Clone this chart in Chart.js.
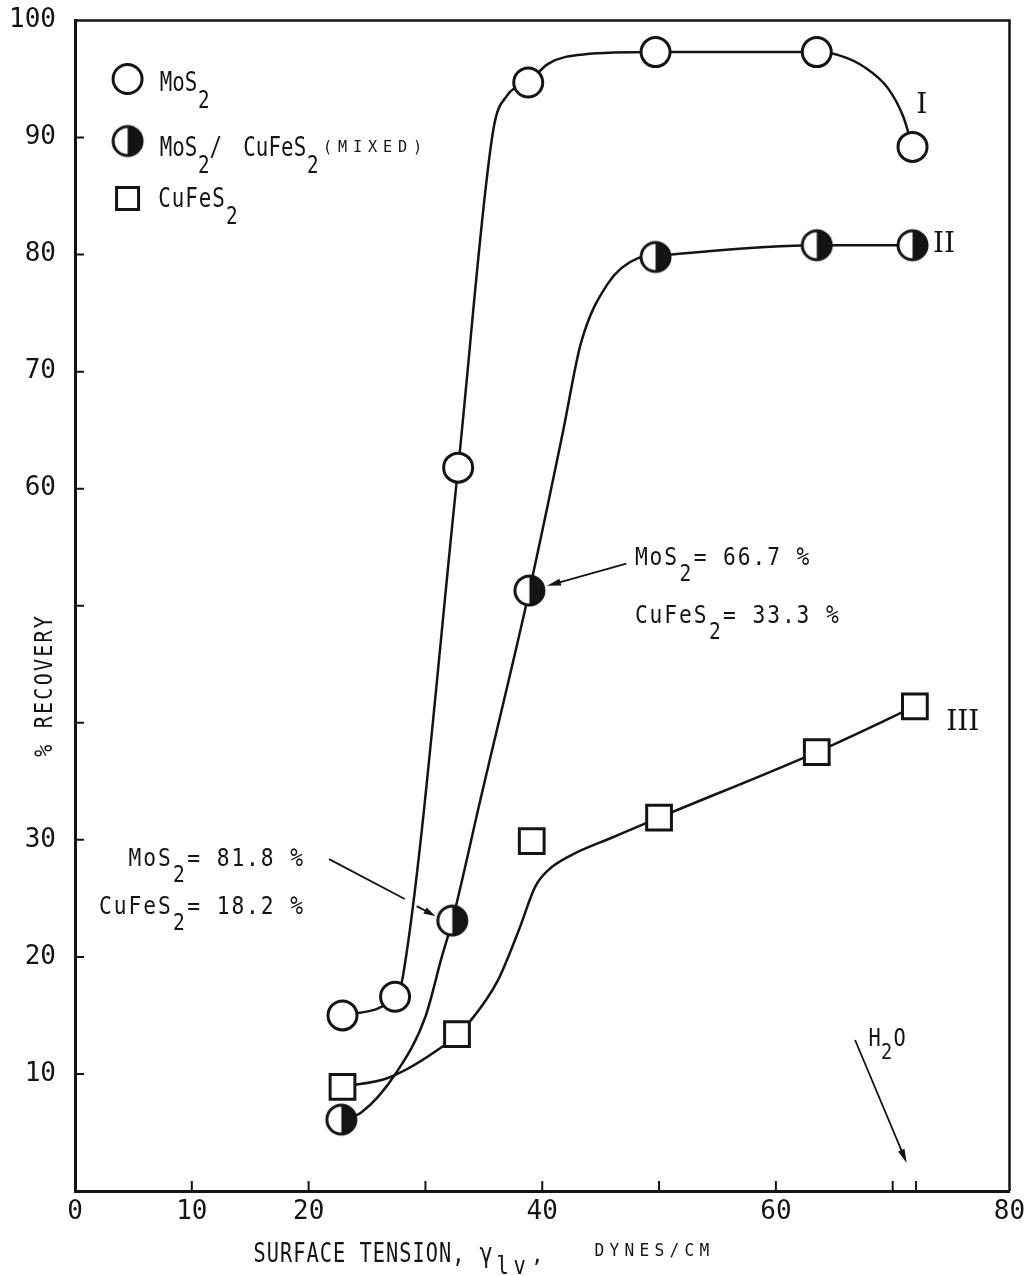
<!DOCTYPE html>
<html>
<head>
<meta charset="utf-8">
<title>Recovery vs surface tension</title>
<script src="https://cdn.jsdelivr.net/npm/chart.js@4.4.1/dist/chart.umd.min.js"></script>
<style>
  html, body { margin: 0; padding: 0; background: #fff; }
  #wrap { width: 1030px; height: 1276px; position: relative; }
</style>
</head>
<body>
<div id="wrap"><canvas id="chart" width="1030" height="1276"></canvas></div>
<script>
// ---- measured points: surface tension (dynes/cm) vs % recovery ----
const tensionMoS2    = [22.9, 27.4, 32.8, 38.8, 49.7, 63.5, 71.7];
const recoveryMoS2   = [15.0, 16.6, 61.8, 94.7, 97.3, 97.3, 89.2];
const tensionMixed   = [22.8, 32.3, 38.9, 49.7, 63.5, 71.7];
const recoveryMixed  = [6.1, 23.1, 51.3, 79.8, 80.8, 80.8];
const tensionCuFeS2  = [22.9, 32.7, 39.1, 50.0, 63.5, 71.9];
const recoveryCuFeS2 = [8.9, 13.4, 29.9, 31.9, 37.5, 41.4];

// ---- hand-faired trend curves I, II, III ----
const curveIx   = [22.9, 27.4, 28.1, 32.8, 35.8, 37.0, 38.8, 40.5, 43.5, 49.7, 63.5, 65.5, 67.6, 69.6, 70.9, 71.7];
const curveIy   = [15.0, 16.6, 18.5, 61.8, 90.6, 93.6, 94.7, 96.3, 97.1, 97.3, 97.3, 97.0, 96.0, 94.2, 91.8, 89.2];
const curveIIx  = [22.8, 24.5, 27.5, 30.0, 31.4, 32.3, 34.7, 38.9, 41.8, 43.3, 45.6, 48.2, 49.7, 63.5, 71.7];
const curveIIy  = [6.1, 6.7, 10.1, 14.9, 20.0, 23.1, 33.4, 51.3, 65.0, 72.4, 77.5, 79.7, 79.9, 80.8, 80.8];
const curveIIIx = [22.9, 26.9, 31.4, 32.7, 33.9, 36.2, 38.0, 39.4, 40.5, 42.5, 46.0, 50.0, 63.5, 71.9];
const curveIIIy = [8.9, 9.7, 12.3, 13.4, 14.6, 18.0, 22.3, 26.0, 27.4, 28.7, 30.2, 31.9, 37.5, 41.4];

// ---- axes ----
const xTickLabels = [0, 10, 20, 40, 60, 80];
const yTickLabels = [10, 20, 30, 60, 70, 80, 90, 100];
const xTickMarks  = [10, 20, 30, 40, 50, 60, 70, 72];
const yTickMarks  = [10, 20, 30, 40, 50, 60, 70, 80, 90];

const INK = '#141414';
const MONO = '"DejaVu Sans Mono", "Liberation Mono", monospace';
const SERIF = '"DejaVu Serif", "Liberation Serif", serif';

const pts = (xs, ys) => xs.map((v, i) => ({ x: v, y: ys[i] }));

// half-filled disc used for the mixed-mineral series
function makeHalfDisc(r) {
  const s = Math.ceil(r * 2 + 6);
  const c = document.createElement('canvas');
  c.width = s; c.height = s;
  const g = c.getContext('2d');
  const m = s / 2;
  g.fillStyle = '#fff';
  g.beginPath(); g.arc(m, m, r, 0, Math.PI * 2); g.fill();
  g.fillStyle = INK;
  g.beginPath(); g.moveTo(m, m - r); g.arc(m, m, r, -Math.PI / 2, Math.PI / 2); g.closePath(); g.fill();
  g.strokeStyle = INK; g.lineWidth = 3;
  g.beginPath(); g.arc(m, m, r, 0, Math.PI * 2); g.stroke();
  return c;
}
const halfDisc = makeHalfDisc(14.5);

// draw a string as evenly pitched, narrow typewriter letters
function typeRun(ctx, str, x, y, pitch, size, squeeze) {
  ctx.font = size + 'px ' + MONO;
  ctx.textAlign = 'center';
  ctx.textBaseline = 'alphabetic';
  for (let i = 0; i < str.length; i++) {
    ctx.save();
    ctx.translate(x + pitch * (i + 0.5), y);
    ctx.scale(squeeze, 1);
    ctx.fillText(str[i], 0, 0);
    ctx.restore();
  }
  return x + pitch * str.length;
}
// runs: [text, pitch, size, dy]
function typeRuns(ctx, runs, x, y, squeeze) {
  let cx = x;
  runs.forEach(([t, p, s, dy]) => { cx = typeRun(ctx, t, cx, y + (dy || 0), p, s, squeeze); });
  return cx;
}
function runsWidth(runs) { return runs.reduce((w, r) => w + r[0].length * r[1], 0); }

function arrow(ctx, x0, y0, x1, y1, head) {
  const ang = Math.atan2(y1 - y0, x1 - x0);
  ctx.beginPath(); ctx.moveTo(x0, y0);
  ctx.lineTo(x1 - Math.cos(ang) * head * 0.8, y1 - Math.sin(ang) * head * 0.8); ctx.stroke();
  ctx.beginPath();
  ctx.moveTo(x1, y1);
  ctx.lineTo(x1 - head * Math.cos(ang) + 3.5 * Math.sin(ang), y1 - head * Math.sin(ang) - 3.5 * Math.cos(ang));
  ctx.lineTo(x1 - head * Math.cos(ang) - 3.5 * Math.sin(ang), y1 - head * Math.sin(ang) + 3.5 * Math.cos(ang));
  ctx.closePath(); ctx.fill();
}

const decor = {
  id: 'decor',
  beforeDatasetsDraw(chart) {
    const { ctx, chartArea: a, scales: { x, y } } = chart;
    ctx.save();
    ctx.strokeStyle = INK;
    ctx.lineWidth = 2.5;
    ctx.beginPath();
    ctx.moveTo(a.left, a.top); ctx.lineTo(a.right, a.top); ctx.lineTo(a.right, a.bottom);
    ctx.stroke();
    ctx.lineWidth = 2;
    ctx.beginPath();
    xTickMarks.forEach(v => { const p = x.getPixelForValue(v); ctx.moveTo(p, a.bottom); ctx.lineTo(p, a.bottom - 10); });
    yTickMarks.forEach(v => { const p = y.getPixelForValue(v); ctx.moveTo(a.left, p); ctx.lineTo(a.left + 9, p); });
    ctx.stroke();
    ctx.restore();
  },
  afterDatasetsDraw(chart) {
    const { ctx, scales: { x, y } } = chart;
    const X = v => x.getPixelForValue(v), Y = v => y.getPixelForValue(v);
    ctx.save();
    ctx.fillStyle = INK; ctx.strokeStyle = INK;

    // legend
    const lx = X(4.5), tx = X(7.25);
    ctx.lineWidth = 3;
    ctx.fillStyle = '#fff';
    ctx.beginPath(); ctx.arc(lx, Y(95.0), 14.5, 0, Math.PI * 2); ctx.fill(); ctx.stroke();
    ctx.drawImage(halfDisc, lx - halfDisc.width / 2, Y(89.7) - halfDisc.height / 2);
    ctx.beginPath(); ctx.rect(lx - 11, Y(84.8) - 11, 22, 22); ctx.fill(); ctx.stroke();
    ctx.fillStyle = INK;
    typeRuns(ctx, [['MoS', 12.5, 26], ['2', 13, 24, 17]], tx, Y(94.0), 0.8);
    let e = typeRuns(ctx, [['MoS', 12.5, 26], ['2', 13, 24, 17], ['/', 11, 26]], tx, Y(88.4), 0.8);
    e = typeRuns(ctx, [['CuFeS', 12.6, 26], ['2', 13, 24, 17]], e + 22, Y(88.4), 0.8);
    typeRuns(ctx, [['(MIXED)', 15, 16, -4]], e + 1, Y(88.4), 0.95);
    typeRuns(ctx, [['CuFeS', 13.5, 26], ['2', 13, 24, 17]], tx - 2, Y(84.1), 0.8);

    // curve numbers
    ctx.font = '28px ' + SERIF;
    ctx.textAlign = 'center'; ctx.textBaseline = 'alphabetic';
    ctx.fillText('I', X(72.5), Y(92.1));
    ctx.fillText('II', X(74.4), Y(80.2));
    ctx.fillText('III', X(76.0), Y(39.4));

    // composition notes with arrows
    const r1 = [['MoS', 14.7, 25], ['2', 14.7, 23, 16], ['= 66.7 %', 14.7, 25]];
    const r2 = [['CuFeS', 14.7, 25], ['2', 14.7, 23, 16], ['= 33.3 %', 14.7, 25]];
    typeRuns(ctx, r1, X(47.85), Y(53.5), 0.85);
    typeRuns(ctx, r2, X(47.85), Y(48.5), 0.85);
    const r3 = [['MoS', 14.7, 25], ['2', 14.7, 23, 16], ['= 81.8 %', 14.7, 25]];
    const r4 = [['CuFeS', 14.7, 25], ['2', 14.7, 23, 16], ['= 18.2 %', 14.7, 25]];
    typeRuns(ctx, r3, X(19.6) - runsWidth(r3), Y(27.8), 0.85);
    typeRuns(ctx, r4, X(19.6) - runsWidth(r4), Y(23.7), 0.85);

    ctx.lineWidth = 1.8;
    arrow(ctx, X(47.2), Y(53.6), X(40.4), Y(51.7), 14);
    ctx.beginPath(); ctx.moveTo(X(21.75), Y(28.35)); ctx.lineTo(X(28.23), Y(24.94)); ctx.stroke();
    arrow(ctx, X(29.25), Y(24.34), X(30.87), Y(23.48), 12);

    // water marker
    typeRuns(ctx, [['H', 12, 24], ['2', 12, 22, 13], ['O', 14, 24]], X(67.95), Y(12.4), 0.85);
    arrow(ctx, X(66.78), Y(12.9), X(71.2), Y(2.39), 14);

    // axis titles
    let end = typeRuns(ctx, [['SURFACE TENSION, ', 13.25, 26]], 253, 1262, 0.78);
    end = typeRuns(ctx, [['\u03b3', 16, 26], ['lv', 17, 24, 12]], end, 1262, 0.85);
    typeRuns(ctx, [[',', 14, 22]], end + 2, 1262, 0.95);
    typeRuns(ctx, [['DYNES/CM', 15, 18, -6]], 592, 1262, 0.9);

    ctx.save();
    ctx.translate(52, 758);
    ctx.rotate(-Math.PI / 2);
    typeRuns(ctx, [['% RECOVERY', 14.3, 25]], 0, 0, 0.8);
    ctx.restore();
    ctx.restore();
  }
};

// keep the plot frame fixed: drop the label overhang that scales ask for
const noOverhang = s => { s.paddingTop = 0; s.paddingBottom = 0; s.paddingLeft = 0; s.paddingRight = 0; };

const markerBase = { showLine: false, borderColor: INK, backgroundColor: '#fff', pointBorderWidth: 3, order: 0 };
const curveBase = { pointRadius: 0, borderColor: INK, borderWidth: 2.5, cubicInterpolationMode: 'monotone', fill: false, order: 1 };

new Chart(document.getElementById('chart'), {
  type: 'line',
  data: {
    datasets: [
      Object.assign({ label: 'MoS2', data: pts(tensionMoS2, recoveryMoS2), pointStyle: 'circle', pointRadius: 14.5,
        pointBackgroundColor: '#fff', pointBorderColor: INK }, markerBase),
      Object.assign({ label: 'MoS2/CuFeS2 (mixed)', data: pts(tensionMixed, recoveryMixed), pointStyle: halfDisc, pointRadius: 14.5 }, markerBase),
      Object.assign({ label: 'CuFeS2', data: pts(tensionCuFeS2, recoveryCuFeS2), pointStyle: 'rect', pointRadius: 17.5,
        pointBackgroundColor: '#fff', pointBorderColor: INK }, markerBase),
      Object.assign({ label: 'I', data: pts(curveIx, curveIy) }, curveBase),
      Object.assign({ label: 'II', data: pts(curveIIx, curveIIy) }, curveBase),
      Object.assign({ label: 'III', data: pts(curveIIIx, curveIIIy) }, curveBase)
    ]
  },
  options: {
    responsive: false,
    animation: false,
    events: [],
    layout: { padding: { top: 20, right: 17, left: 0, bottom: 0 } },
    plugins: { legend: { display: false }, tooltip: { enabled: false } },
    scales: {
      x: {
        type: 'linear', min: 0, max: 80,
        afterFit: s => { s.height = 85; noOverhang(s); },
        grid: { display: false, drawTicks: false },
        border: { display: true, color: INK, width: 3 },
        ticks: {
          stepSize: 10, autoSkip: false, maxRotation: 0, padding: 6,
          color: INK, font: { family: MONO, size: 26 },
          callback: v => xTickLabels.includes(v) ? String(v) : ''
        }
      },
      y: {
        type: 'linear', min: 0, max: 100,
        afterFit: s => { s.width = 75; noOverhang(s); },
        grid: { display: false, drawTicks: false },
        border: { display: true, color: INK, width: 3 },
        ticks: {
          stepSize: 10, autoSkip: false, padding: 19,
          color: INK, font: { family: MONO, size: 26 },
          callback: v => yTickLabels.includes(v) ? String(v) : ''
        }
      }
    }
  },
  plugins: [decor]
});
</script>
</body>
</html>
